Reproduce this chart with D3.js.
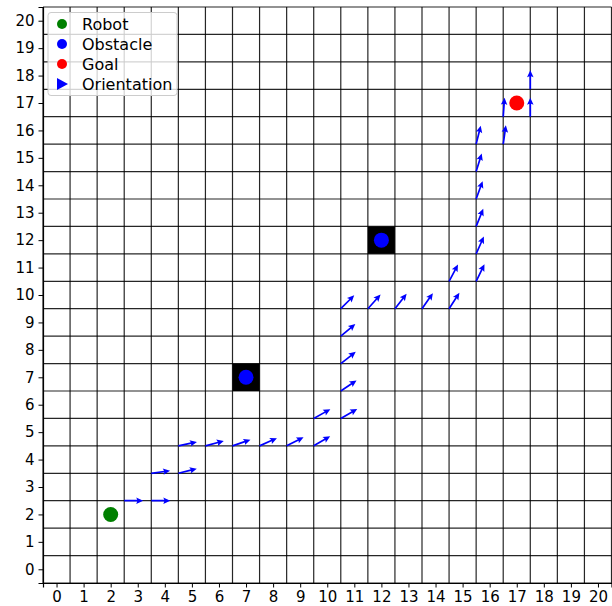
<!DOCTYPE html>
<html lang="en">
<head>
<meta charset="UTF-8">
<title>Robot path</title>
<style>
  body { margin: 0; background: #fff; }
  text { font-family: "DejaVu Sans", sans-serif; }
</style>
</head>
<body>
<script src="https://d3js.org/d3.v7.min.js"></script>
<script>
// grid values 0..20, cells centred on integers
var ticks = d3.range(0, 21);

var robot = [[2, 2]];
var obstacles = [[7, 7], [12, 12]];
var goal = [[17, 17]];

// quiver tails and headings (degrees)
var arrowX = [2.5, 3.5, 3.5, 4.5, 4.5, 5.5, 6.5, 7.5, 8.5, 9.5,
              9.5, 10.5, 10.5, 10.5, 10.5, 10.5,
              11.5, 12.5, 13.5, 14.5, 14.5, 15.5,
              15.5, 15.5, 15.5, 15.5, 15.5, 16.5, 16.5, 17.5, 17.5];
var arrowY = [2.5, 2.5, 3.5, 3.5, 4.5, 4.5, 4.5, 4.5, 4.5, 4.5,
              5.5, 5.5, 6.5, 7.5, 8.5, 9.5,
              9.5, 9.5, 9.5, 9.5, 10.5, 10.5,
              11.5, 12.5, 13.5, 14.5, 15.5, 15.5, 16.5, 16.5, 17.5];
var arrowAngle = [0, 0, 8, 14, 12, 15, 19, 24, 27, 30,
                  29, 30, 34, 38, 40, 45,
                  48, 52, 55, 57, 62, 64,
                  66, 68, 70, 73, 76, 82, 86, 90, 90];

var legendLabels = ["Robot", "Obstacle", "Goal", "Orientation"];

var width = 612, height = 606;
var x = d3.scaleLinear().domain([-0.5, 20.5]).range([43, 611.5]);
var y = d3.scaleLinear().domain([-0.5, 20.5]).range([583, 7]);

var svg = d3.select("body").append("svg")
    .attr("width", width)
    .attr("height", height);

var plot = svg.append("g");

// grid lines at half steps
var halves = d3.range(-0.5, 21, 1);
plot.selectAll(".vline").data(halves).enter().append("line")
    .attr("x1", function(d) { return x(d); })
    .attr("x2", function(d) { return x(d); })
    .attr("y1", y(-0.5)).attr("y2", y(20.5))
    .attr("stroke", "#000").attr("stroke-opacity", 0.85).attr("stroke-width", 1.2);
plot.selectAll(".hline").data(halves).enter().append("line")
    .attr("y1", function(d) { return y(d); })
    .attr("y2", function(d) { return y(d); })
    .attr("x1", x(-0.5)).attr("x2", x(20.5))
    .attr("stroke", "#000").attr("stroke-opacity", 0.85).attr("stroke-width", 1.2);

// axes
var xAxis = d3.axisBottom(x).tickValues(ticks).tickSize(4.5).tickPadding(4).tickFormat(d3.format("d"));
var yAxis = d3.axisLeft(y).tickValues(ticks).tickSize(4.5).tickPadding(4).tickFormat(d3.format("d"));

var gx = svg.append("g").attr("transform", "translate(0," + y(-0.5) + ")").call(xAxis);
var gy = svg.append("g").attr("transform", "translate(" + x(-0.5) + ",0)").call(yAxis);
[gx, gy].forEach(function(g) {
  g.select(".domain").attr("stroke", "#000").attr("stroke-width", 1.2);
  g.selectAll(".tick line").attr("stroke", "#000").attr("stroke-width", 1);
  g.selectAll(".tick text").attr("font-size", "15px").attr("fill", "#000")
    .style("font-family", "DejaVu Sans, sans-serif");
});

// obstacle cells
var cell = x(1) - x(0);
plot.selectAll(".cell").data(obstacles).enter().append("rect")
    .attr("x", function(d) { return x(d[0] - 0.5); })
    .attr("y", function(d) { return y(d[1] + 0.5); })
    .attr("width", cell)
    .attr("height", y(0) - y(1))
    .attr("fill", "#000");

function dots(data, color) {
  plot.selectAll(null).data(data).enter().append("circle")
      .attr("cx", function(d) { return x(d[0]); })
      .attr("cy", function(d) { return y(d[1]); })
      .attr("r", 7.5)
      .attr("fill", color);
}
dots(robot, "#008000");
dots(obstacles, "#0000ff");
dots(goal, "#ff0000");

// quiver arrows, fixed screen length like matplotlib
var L = 19, sw = 1.7, hw = 6.5, hl = 7, hal = 6;
var shape = [[0, -sw / 2], [L - hal, -sw / 2], [L - hl, -hw / 2], [L, 0],
             [L - hl, hw / 2], [L - hal, sw / 2], [0, sw / 2]];
var arrows = d3.range(arrowX.length).map(function(i) {
  return { x: arrowX[i], y: arrowY[i], a: arrowAngle[i] };
});
plot.selectAll(".arrow").data(arrows).enter().append("polygon")
    .attr("points", shape.map(function(p) { return p.join(","); }).join(" "))
    .attr("transform", function(d) {
      return "translate(" + x(d.x) + "," + y(d.y) + ")rotate(" + (-d.a) + ")";
    })
    .attr("fill", "#0000ff");

// legend
var lg = svg.append("g").attr("transform", "translate(48,12.5)");
lg.append("rect")
    .attr("width", 129).attr("height", 83).attr("rx", 3)
    .attr("fill", "#fff").attr("fill-opacity", 0.8)
    .attr("stroke", "#ccc").attr("stroke-width", 1);
var colors = ["#008000", "#0000ff", "#ff0000", "#0000ff"];
var rows = lg.selectAll(".row").data(legendLabels).enter().append("g")
    .attr("transform", function(d, i) { return "translate(14," + (11.5 + i * 20) + ")"; });
rows.each(function(d, i) {
  var r = d3.select(this);
  if (i < 3) {
    r.append("circle").attr("r", 5).attr("fill", colors[i]);
  } else {
    r.append("path").attr("d", "M-5,-6L6,0L-5,6Z").attr("fill", colors[i]);
  }
  r.append("text").attr("x", 20).attr("dy", "0.35em")
    .attr("font-size", "16px").attr("fill", "#000").text(d);
});
</script>
</body>
</html>
